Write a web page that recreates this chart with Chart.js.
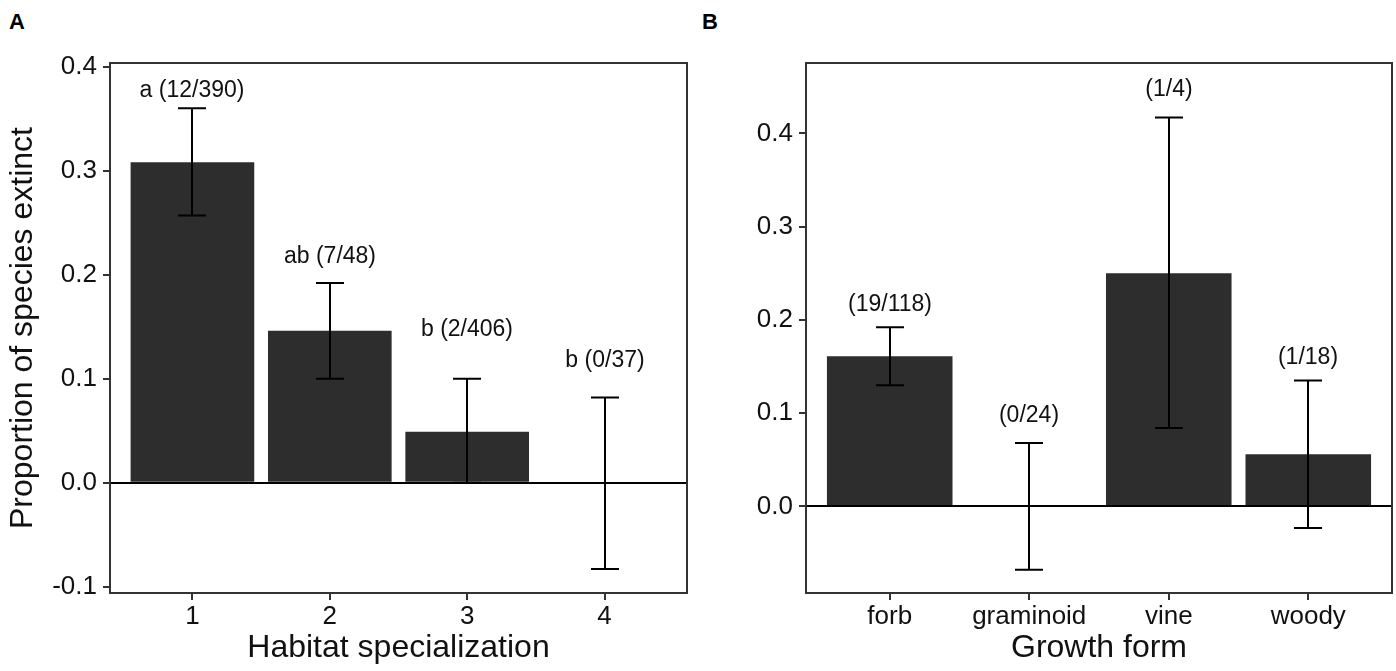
<!DOCTYPE html>
<html>
<head>
<meta charset="utf-8">
<script src="https://cdn.jsdelivr.net/npm/chart.js@4.4.1/dist/chart.umd.min.js"></script>
<style>
  body { margin: 0; background: #fff; }
  .panel { position: absolute; top: 0; width: 698px; height: 671px; }
  .tag { position: absolute; font: bold 22px 'Liberation Sans', Arial, sans-serif; line-height: 22px; top: 11px; color: #000; }
</style>
</head>
<body>
<div class="tag" style="left:9px">A</div>
<div class="tag" style="left:702px">B</div>
<div class="panel" style="left:0"><canvas id="chartA"></canvas></div>
<div class="panel" style="left:698px"><canvas id="chartB"></canvas></div>
<script>
// Panel A: habitat specialization
const habitatLevels = ['1', '2', '3', '4'];
const habitatProp = [0.308, 0.146, 0.049, 0.0];
const habitatLow = [0.257, 0.100, 0.0, -0.083];
const habitatHigh = [0.360, 0.192, 0.100, 0.082];
const habitatLabels = ['a (12/390)', 'ab (7/48)', 'b (2/406)', 'b (0/37)'];
const habitatLabelAt = [0.377, 0.217, 0.147, 0.117];
const habitatTicks = [-0.1, 0.0, 0.1, 0.2, 0.3, 0.4];

// Panel B: growth form
const growthForms = ['forb', 'graminoid', 'vine', 'woody'];
const growthProp = [0.161, 0.0, 0.25, 0.056];
const growthLow = [0.130, -0.068, 0.084, -0.023];
const growthHigh = [0.192, 0.068, 0.417, 0.135];
const growthLabels = ['(19/118)', '(0/24)', '(1/4)', '(1/18)'];
const growthLabelAt = [0.216, 0.097, 0.447, 0.159];
const growthTicks = [0.0, 0.1, 0.2, 0.3, 0.4];

const FONT = "'Liberation Sans', Arial, sans-serif";
const INK = '#111';
const LINE = '#333';

// error bars, zero line, count labels and the panel border
const decorations = {
  id: 'decorations',
  afterDatasetsDraw(chart, args, opts) {
    const { ctx, chartArea: a } = chart;
    const x = chart.scales.x, y = chart.scales.y;
    ctx.save();
    ctx.strokeStyle = '#000';
    ctx.lineWidth = 2;
    const y0 = Math.round(y.getPixelForValue(0));
    ctx.beginPath();
    ctx.moveTo(a.left, y0);
    ctx.lineTo(a.right, y0);
    ctx.stroke();

    opts.low.forEach((lo, i) => {
      const px = Math.round(x.getPixelForValue(i + 1));
      const pl = y.getPixelForValue(lo), ph = y.getPixelForValue(opts.high[i]);
      ctx.beginPath();
      ctx.moveTo(px, pl); ctx.lineTo(px, ph);
      ctx.moveTo(px - 14, pl); ctx.lineTo(px + 14, pl);
      ctx.moveTo(px - 14, ph); ctx.lineTo(px + 14, ph);
      ctx.stroke();

      ctx.fillStyle = INK;
      ctx.font = '23px ' + FONT;
      ctx.textAlign = 'center';
      ctx.textBaseline = 'middle';
      ctx.fillText(opts.labels[i], px, y.getPixelForValue(opts.labelAt[i]));
    });

    ctx.strokeStyle = LINE;
    ctx.strokeRect(a.left, a.top, a.right - a.left, a.bottom - a.top);
    ctx.restore();
  }
};

function makePanel(id, cats, values, low, high, labels, labelAt, yTicks, yMin, yMax, yWidth, rightPad, xTitle, yTitle) {
  const axisGrid = { display: true, drawOnChartArea: false, drawTicks: true, tickLength: 7, color: LINE, lineWidth: 2, offset: false };
  new Chart(document.getElementById(id), {
    type: 'bar',
    data: {
      datasets: [{
        data: cats.map((c, i) => ({ x: i + 1, y: values[i] })),
        backgroundColor: '#2d2d2d',
        borderWidth: 0,
        barPercentage: 0.9,
        categoryPercentage: 1.0
      }]
    },
    options: {
      responsive: true,
      maintainAspectRatio: false,
      animation: false,
      layout: { padding: { top: 63, right: rightPad, bottom: 0, left: 0 } },
      scales: {
        x: {
          type: 'linear',
          min: 0.4,
          max: 4.6,
          offset: false,
          grid: axisGrid,
          border: { display: false },
          afterBuildTicks: s => { s.ticks = cats.map((c, i) => ({ value: i + 1 })); },
          afterFit: s => { s.height = 78; },
          ticks: {
            font: { family: FONT, size: 26 },
            color: INK,
            padding: 1,
            maxRotation: 0,
            callback: v => cats[v - 1]
          },
          title: { display: true, text: xTitle, font: { family: FONT, size: 32 }, color: INK, padding: { top: 0, bottom: 4 } }
        },
        y: {
          min: yMin,
          max: yMax,
          grid: axisGrid,
          border: { display: false },
          afterBuildTicks: s => { s.ticks = yTicks.map(v => ({ value: v })); },
          afterFit: s => { s.width = yWidth; },
          ticks: {
            font: { family: FONT, size: 26 },
            color: INK,
            padding: 6,
            callback: v => v.toFixed(1)
          },
          title: { display: !!yTitle, text: yTitle, font: { family: FONT, size: 32 }, color: INK, padding: { top: 4, bottom: 0 } }
        }
      },
      plugins: {
        legend: { display: false },
        tooltip: { enabled: false },
        decorations: { low, high, labels, labelAt }
      }
    },
    plugins: [decorations]
  });
}

makePanel('chartA', habitatLevels, habitatProp, habitatLow, habitatHigh, habitatLabels, habitatLabelAt,
  habitatTicks, -0.106, 0.4035, 110, 11, 'Habitat specialization', 'Proportion of species extinct');
makePanel('chartB', growthForms, growthProp, growthLow, growthHigh, growthLabels, growthLabelAt,
  growthTicks, -0.0928, 0.4754, 108, 4, 'Growth form', '');
</script>
</body>
</html>
